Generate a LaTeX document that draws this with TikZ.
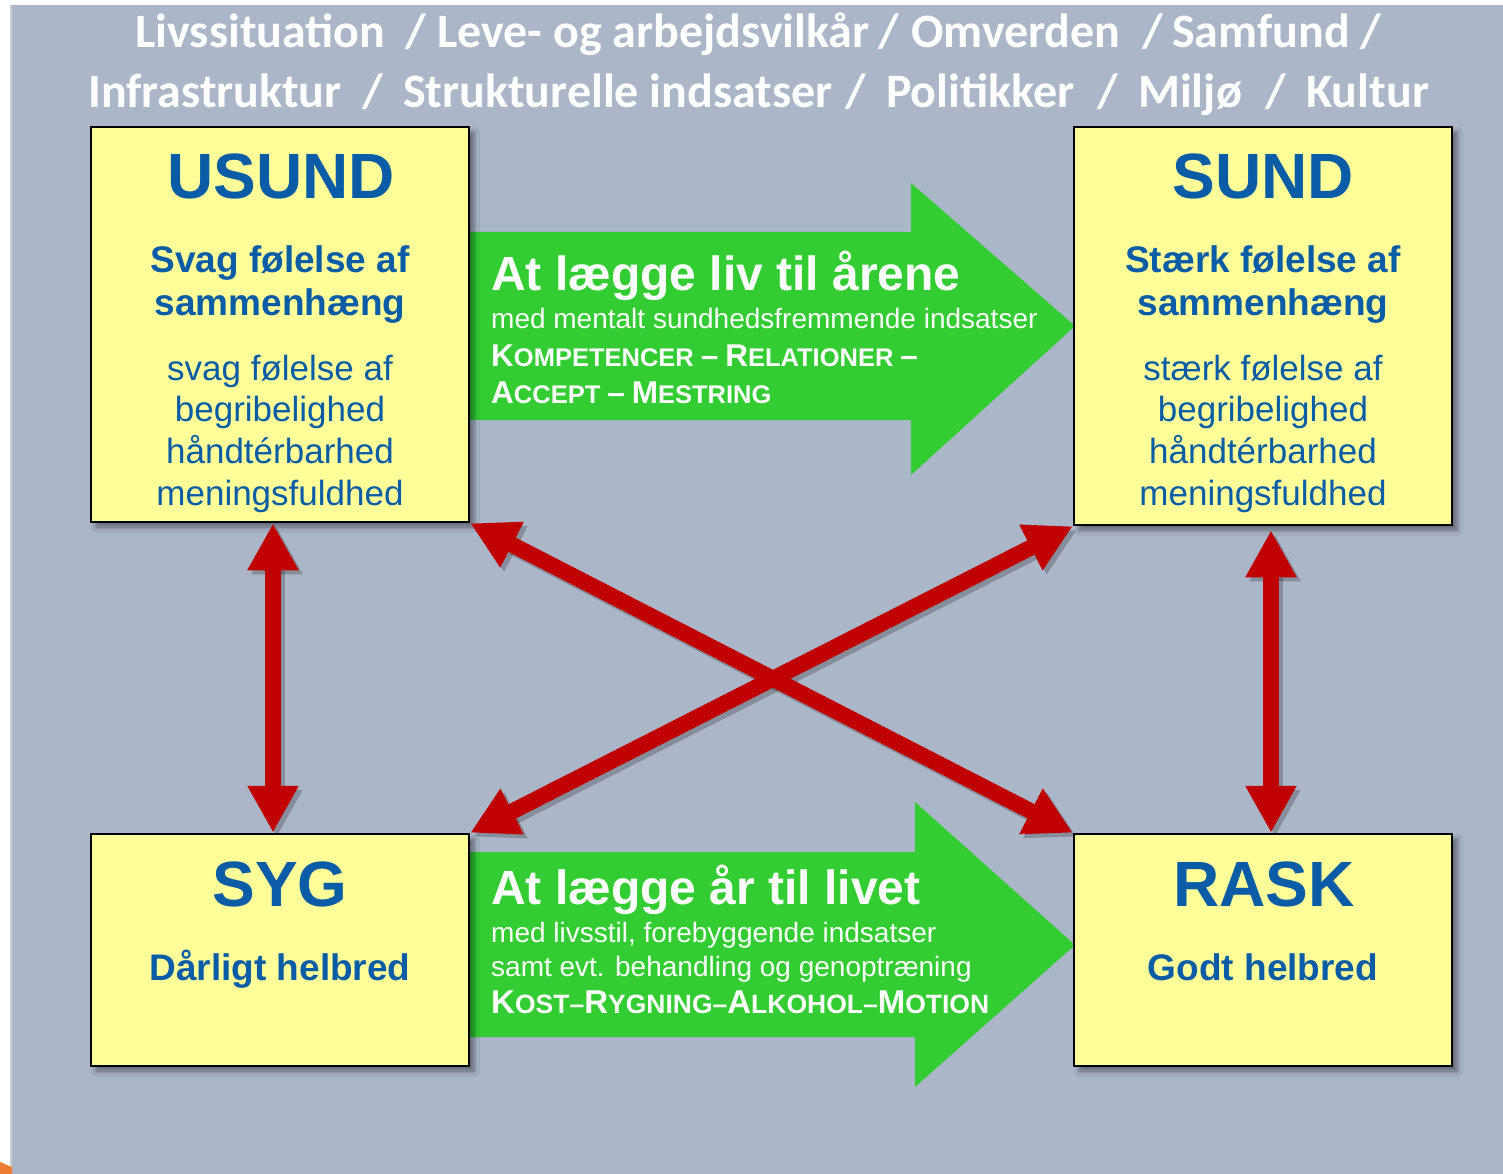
\documentclass[tikz,border=0pt]{standalone}
\usepackage{fontspec}
\setmainfont{Liberation Sans}
\newfontfamily\headfont{Carlito}
\usetikzlibrary{arrows.meta,shadows.blur}

\definecolor{bgblue}{HTML}{ACB6C9}
\definecolor{boxyellow}{HTML}{FFFF99}
\definecolor{textblue}{HTML}{0B5CA6}
\definecolor{arrowgreen}{HTML}{33CC33}
\definecolor{arrowred}{HTML}{C00000}
\definecolor{cornerorange}{HTML}{ED7D31}

% fake small caps: large initial, smaller rest
\newcommand\capsc[2]{{\fontsize{33}{35}\selectfont #1}{\fontsize{26.5}{28}\selectfont #2}}
\newcommand\capsm[2]{{\fontsize{31.5}{34}\selectfont #1}{\fontsize{25.5}{28}\selectfont #2}}

\begin{document}
\begin{tikzpicture}[x=1pt,y=-1pt,
  statebox/.style={draw=black, line width=2.5pt, fill=boxyellow,
    minimum width=378pt, inner sep=0pt,
    blur shadow={shadow xshift=5pt, shadow yshift=-5pt,
      shadow blur steps=6, shadow blur radius=5pt, shadow opacity=45}},
  headtxt/.style={font=\fontsize{64}{70}\selectfont\bfseries, text=textblue, anchor=base, inner sep=0pt},
  subtxt/.style={font=\fontsize{37}{40}\selectfont\bfseries, text=textblue, anchor=base, inner sep=0pt},
  regtxt/.style={font=\fontsize{35}{38}\selectfont, text=textblue, anchor=base, inner sep=0pt},
  titleword/.style={font=\headfont\bfseries\fontsize{48}{52}\selectfont, text=white, anchor=base west, inner sep=0pt},
  greenhead/.style={font=\fontsize{48}{52}\selectfont\bfseries, text=white, anchor=base west, inner sep=0pt},
  greentxt/.style={font=\fontsize{28}{30}\selectfont, text=white, anchor=base west, inner sep=0pt},
  greencaps/.style={font=\fontsize{25}{28}\selectfont\bfseries, text=white, anchor=base west, inner sep=0pt},
  twoway/.style={line width=16pt, {Triangle[width=48pt,length=47pt]}-{Triangle[width=48pt,length=47pt]}},
  redarrow/.style={twoway, draw=arrowred, fill=arrowred},
  redshade/.style={twoway, draw=black, fill=black, opacity=0.22,
    transform canvas={xshift=4pt,yshift=-4pt}},
  greenarrow/.style={fill=arrowgreen}
]
\useasboundingbox (0,0) rectangle (1503,1174);

% backdrop
\fill[black!20] (10,5) rectangle (1503,1174);
\fill[bgblue] (12,5) rectangle (1503,1174);
\fill[cornerorange] (0,1162) -- (12,1167) -- (12,1174) -- (0,1174) -- cycle;

% heading lines
\node[titleword] (t1a) at (135,48) {Livssituation};
\node[titleword] (t1b) at (405,48) {/};
\node[titleword] (t1c) at (437,48) {Leve- og arbejdsvilkår};
\node[titleword] (t1d) at (878,48) {/};
\node[titleword] (t1e) at (911,48) {Omverden};
\node[titleword] (t1f) at (1142,48) {/};
\node[titleword] (t1g) at (1172,48) {Samfund};
\node[titleword] (t1h) at (1360,48) {/};

\node[titleword] (t2a) at (88,108) {Infrastruktur};
\node[titleword] (t2b) at (362,108) {/};
\node[titleword] (t2c) at (403,108) {Strukturelle indsatser};
\node[titleword] (t2d) at (845,108) {/};
\node[titleword] (t2e) at (886,108) {Politikker};
\node[titleword] (t2f) at (1097,108) {/};
\node[titleword] (t2g) at (1138,108) {Miljø};
\node[titleword] (t2h) at (1265,108) {/};
\node[titleword] (t2i) at (1306,108) {Kultur};

% green block arrows
\fill[greenarrow] (470,232) -- (911,232) -- (911,183) -- (1075,326) -- (911,475)
  -- (911,420) -- (470,420) -- cycle;
\fill[greenarrow] (470,852) -- (915,852) -- (915,802) -- (1075,945) -- (915,1087)
  -- (915,1037) -- (470,1037) -- cycle;

% state boxes
\node[statebox, minimum height=395pt] (usund) at (280,324.5) {};
\node[statebox, minimum height=398pt] (sund) at (1263,326) {};
\node[statebox, minimum height=232pt] (syg) at (280,950) {};
\node[statebox, minimum height=232pt] (rask) at (1263,950) {};

% USUND
\node[headtxt] (usundh) at (281,199) {USUND};
\node[subtxt] (usunds1) at (280,272) {Svag følelse af};
\node[subtxt] (usunds2) at (280,315) {sammenhæng};
\node[regtxt] (usundr1) at (280,380) {svag følelse af};
\node[regtxt] (usundr2) at (280,421) {begribelighed};
\node[regtxt] (usundr3) at (280,463) {håndtérbarhed};
\node[regtxt] (usundr4) at (280,505) {meningsfuldhed};

% SUND
\node[headtxt] (sundh) at (1263,199) {SUND};
\node[subtxt] (sunds1) at (1263,272) {Stærk følelse af};
\node[subtxt] (sunds2) at (1263,315) {sammenhæng};
\node[regtxt] (sundr1) at (1263,380) {stærk følelse af};
\node[regtxt] (sundr2) at (1263,421) {begribelighed};
\node[regtxt] (sundr3) at (1263,463) {håndtérbarhed};
\node[regtxt] (sundr4) at (1263,505) {meningsfuldhed};

% SYG and RASK
\node[headtxt] (sygh) at (280,906) {SYG};
\node[subtxt] (sygs) at (280,980) {Dårligt helbred};
\node[headtxt] (raskh) at (1264,906) {RASK};
\node[subtxt] (rasks) at (1263,980) {Godt helbred};

% texts on the green arrows
\node[greenhead] (g1h) at (491,290) {At lægge liv til årene};
\node[greentxt] (g1a) at (491,328) {med mentalt sundhedsfremmende indsatser};
\node[greencaps] (g1b) at (491,366) {\capsm{K}{OMPETENCER} \capsm{–}{} \capsm{R}{ELATIONER} \capsm{–}{}};
\node[greencaps] (g1c) at (491,403) {\capsm{A}{CCEPT} \capsm{–}{} \capsm{M}{ESTRING}};

\node[greenhead] (g2h) at (491,904) {At lægge år til livet};
\node[greentxt] (g2a) at (491,942) {med livsstil, forebyggende indsatser};
\node[greentxt] (g2b) at (491,976) {samt evt. behandling og genoptræning};
\node[greencaps] (g2c) at (491,1013) {\capsc{K}{OST–}\capsc{R}{YGNING–}\capsc{A}{LKOHOL–}\capsc{M}{OTION}};

% red two-way arrows: soft shade first, then the arrows
\draw[redshade] ([xshift=-7pt]usund.south) -- ([xshift=-7pt]syg.north);
\draw[redshade] ([xshift=8pt,yshift=-4pt]sund.south) -- ([xshift=8pt]rask.north);
\draw[redshade] (usund.south east) -- (rask.north west);
\draw[redshade] (sund.south west) -- (syg.north east);

\draw[redarrow] ([xshift=-7pt]usund.south) -- ([xshift=-7pt]syg.north);
\draw[redarrow] ([xshift=8pt,yshift=-4pt]sund.south) -- ([xshift=8pt]rask.north);
\draw[redarrow] (usund.south east) -- (rask.north west);
\draw[redarrow] (sund.south west) -- (syg.north east);
\end{tikzpicture}
\end{document}
